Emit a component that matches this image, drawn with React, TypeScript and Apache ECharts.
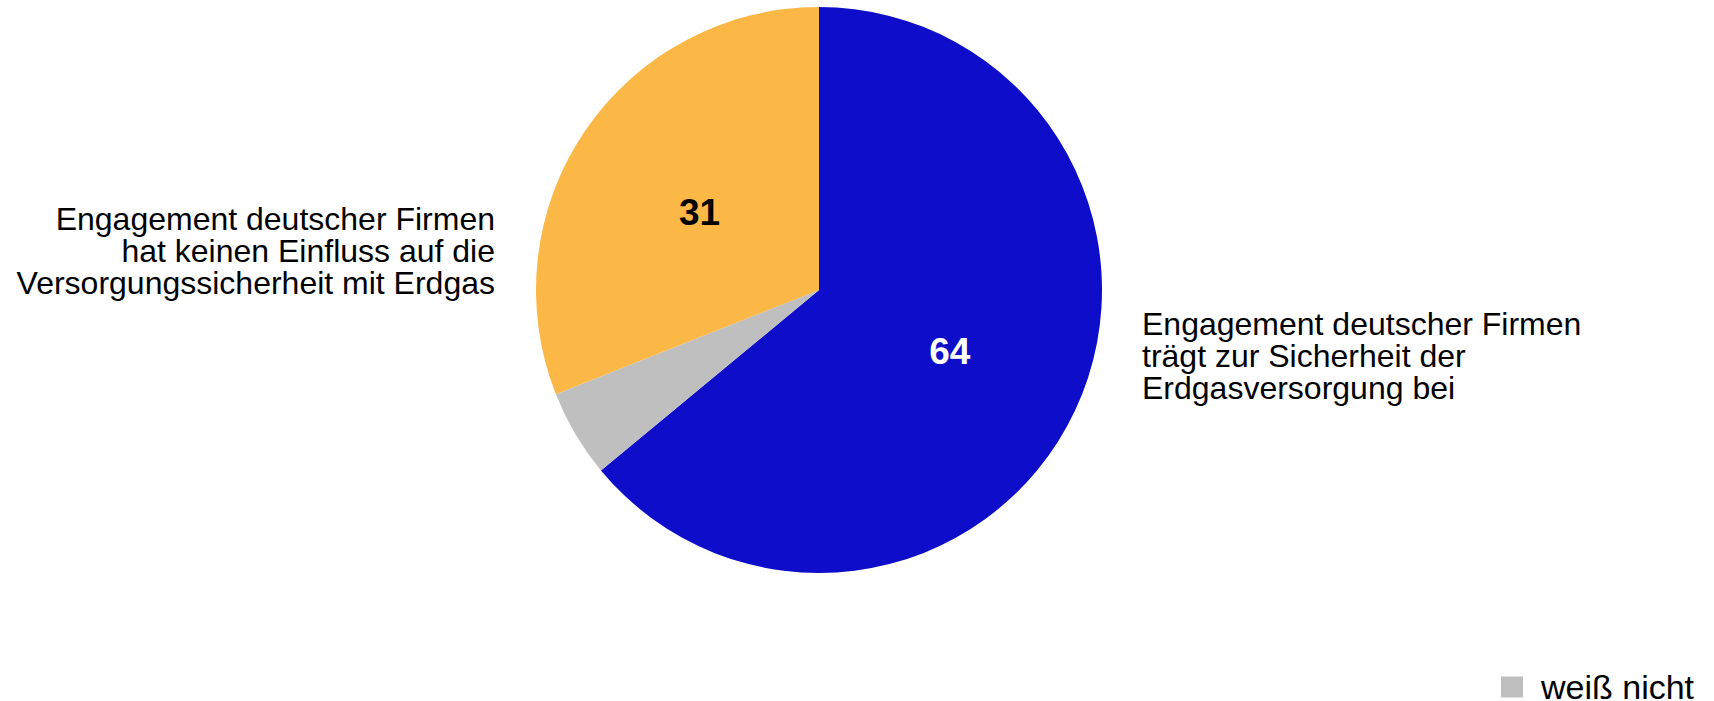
import React, { useEffect, useRef } from "react";
import * as echarts from "echarts";

const categories = [
  "Engagement deutscher Firmen trägt zur Sicherheit der Erdgasversorgung bei",
  "weiß nicht",
  "Engagement deutscher Firmen hat keinen Einfluss auf die Versorgungssicherheit mit Erdgas",
];
const values = [64, 5, 31];
const rightLabelLines = ["Engagement deutscher Firmen", "trägt zur Sicherheit der", "Erdgasversorgung bei"];
const leftLabelLines = ["Engagement deutscher Firmen", "hat keinen Einfluss auf die", "Versorgungssicherheit mit Erdgas"];
const legendItems = ["weiß nicht"];
const showValue = [true, false, true];

const COLORS = ["#0D0DCA", "#BFBFBF", "#FBB846"];
const LABEL_COLORS = ["#FFFFFF", "#000000", "#000000"];
const FONT = "'Liberation Sans', Arial, Helvetica, sans-serif";

export default function App() {
  const ref = useRef<HTMLDivElement>(null);
  useEffect(() => {
    if (!ref.current) return;
    const chart = echarts.init(ref.current, undefined, { renderer: "svg" });
    chart.setOption({
      animation: false,
      backgroundColor: "#ffffff",
      textStyle: { fontFamily: FONT },
      legend: {
        data: legendItems,
        left: 1501,
        top: 670,
        padding: 0,
        icon: "rect",
        itemWidth: 22,
        itemHeight: 21,
        selectedMode: false,
        textStyle: {
          fontFamily: FONT,
          fontSize: 34,
          color: "#000000",
          padding: [0, 0, 14, 13],
        },
      },
      series: [
        {
          type: "pie",
          center: [819, 290],
          radius: [0, 283],
          startAngle: 90,
          clockwise: true,
          avoidLabelOverlap: false,
          labelLine: { show: false },
          emphasis: { disabled: true },
          data: categories.map((name, i) => ({
            name,
            value: values[i],
            itemStyle: { color: COLORS[i] },
            label: {
              show: showValue[i],
              position: "inside",
              formatter: "{c}",
              color: LABEL_COLORS[i],
              fontSize: 37,
              fontWeight: "bold",
              fontFamily: FONT,
              offset: i === 2 ? [0, 4] : [0, 0],
            },
          })),
        },
      ],
      graphic: [
        {
          type: "text",
          x: 495,
          y: 251,
          style: {
            text: leftLabelLines.join("\n"),
            align: "right",
            verticalAlign: "middle",
            fontSize: 32,
            lineHeight: 32,
            fontFamily: FONT,
            fill: "#000000",
          },
        },
        {
          type: "text",
          x: 1142,
          y: 356,
          style: {
            text: rightLabelLines.join("\n"),
            align: "left",
            verticalAlign: "middle",
            fontSize: 32,
            lineHeight: 32,
            fontFamily: FONT,
            fill: "#000000",
          },
        },
      ],
    });
    return () => chart.dispose();
  }, []);
  return (
    <div
      ref={ref}
      style={{ position: "fixed", left: 0, top: 0, width: "1714px", height: "701px" }}
    />
  );
}
